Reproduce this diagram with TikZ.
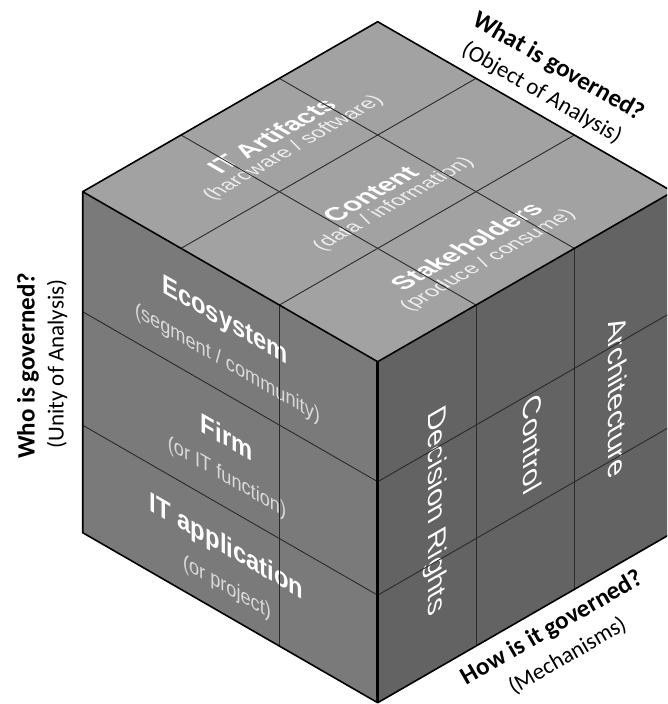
\documentclass[tikz,border=0pt]{standalone}
\usepackage{fontspec}
\usetikzlibrary{calc}
\newfontfamily\arialf{Liberation Sans}
\newfontfamily\calf{Carlito}
\definecolor{topc}{HTML}{A2A2A2}
\definecolor{leftc}{HTML}{7A7A7A}
\definecolor{rightc}{HTML}{636363}
\definecolor{gridc}{HTML}{2A2A2A}
\definecolor{tsubc}{HTML}{EEEEEE}
\definecolor{lsubc}{HTML}{DADADA}
\tikzset{
  edgeline/.style={line width=1.6pt, black, line join=round},
  frontedge/.style={line width=2.6pt, black},
  gridline/.style={line width=0.9pt, gridc},
  topT/.style={cm={0.866,0.5,-0.866,0.5,(0,0)}, inner sep=0pt},
  leftT/.style={cm={0.866,-0.5,0,1,(0,0)}, inner sep=0pt},
  rightT/.style={cm={0,-1,0.866,0.5,(0,0)}, inner sep=0pt},
  ttitle/.style={text=white, font={\arialf\bfseries\fontsize{26}{28}\selectfont}},
  tsub/.style={text=tsubc, font={\arialf\fontsize{21}{23}\selectfont}},
  ltitle/.style={text=white, font={\arialf\bfseries\fontsize{27.5}{29}\selectfont}},
  lsub/.style={text=lsubc, font={\arialf\fontsize{21}{23}\selectfont}},
  rtitle/.style={text=white, font={\arialf\fontsize{29.5}{31}\selectfont}},
  qbold/.style={text=black, inner sep=0pt, font={\calf\bfseries\fontsize{25}{27}\selectfont}},
  qsub/.style={text=black, inner sep=0pt, font={\calf\fontsize{23}{25}\selectfont}},
}
\begin{document}
\begin{tikzpicture}[x=1pt,y=-1pt]
\useasboundingbox (0,0) rectangle (667,704);
\clip (0,0) rectangle (667,704);
% cube vertices
\coordinate (T) at (377.7,21.7);
\coordinate (L) at (82.7,191.7);
\coordinate (F) at (377.7,361.7);
\coordinate (R) at (672.7,191.7);
\coordinate (LB) at (82.7,532.7);
\coordinate (FB) at (377.7,702.7);
\coordinate (RB) at (672.7,532.7);
% horizontal division points on vertical edges
\coordinate (L1) at (82.7,311.7);
\coordinate (L2) at (82.7,425.2);
\coordinate (F1) at (377.7,481.7);
\coordinate (F2) at (377.7,595.2);
\coordinate (R1) at (672.7,311.7);
\coordinate (R2) at (672.7,425.2);
% faces
\fill[topc] (T) -- (R) -- (F) -- (L) -- cycle;
\fill[leftc] (L) -- (F) -- (FB) -- (LB) -- cycle;
\fill[rightc] (F) -- (R) -- (RB) -- (FB) -- cycle;
% top face texts
\node[topT, ttitle] (itart) at (271.5,135.6) {IT Artifacts};
\node[topT, tsub] (itartsub) at (293.6,148.3) {(hardware / software)};
\node[topT, ttitle] (content) at (370.3,194.2) {Content};
\node[topT, tsub] (contentsub) at (393.9,204.5) {(data / information)};
\node[topT, ttitle] (stake) at (466.2,246.1) {Stakeholders};
\node[topT, tsub] (stakesub) at (488.3,260.5) {(produce / consume)};
% left face texts
\node[leftT, ltitle] (eco) at (225,321.7) {Ecosystem};
\node[leftT, lsub] (ecosub) at (227.5,364) {(segment / community)};
\node[leftT, ltitle] (firm) at (226.7,436.7) {Firm};
\node[leftT, lsub] (firmsub) at (227,478) {(or IT function)};
\node[leftT, ltitle] (itapp) at (226.7,548) {IT application};
\node[leftT, lsub] (itappsub) at (227,588) {(or project)};
% right face texts
\node[rightT, rtitle] (decr) at (435,511.7) {Decision Rights};
\node[rightT, rtitle] (ctrl) at (533,444) {Control};
\node[rightT, rtitle] (arch) at (617.5,396.7) {Architecture};
% grid lines
\draw[gridline] ($(T)!1/3!(L)$) -- ($(R)!1/3!(F)$);
\draw[gridline] ($(T)!2/3!(L)$) -- ($(R)!2/3!(F)$);
\draw[gridline] ($(T)!1/3!(R)$) -- ($(L)!1/3!(F)$);
\draw[gridline] ($(T)!2/3!(R)$) -- ($(L)!2/3!(F)$);
\draw[gridline] ($(L)!2/3!(F)$) -- ($(LB)!2/3!(FB)$);
\draw[gridline] ($(F)!1/3!(R)$) -- ($(FB)!1/3!(RB)$);
\draw[gridline] ($(F)!2/3!(R)$) -- ($(FB)!2/3!(RB)$);
\draw[gridline] (L1) -- (F1) -- (R1);
\draw[gridline] (L2) -- (F2) -- (R2);
% outer edges
\draw[edgeline] (L) -- (T) -- (R) -- (F) -- cycle;
\draw[edgeline] (L) -- (LB) -- (FB) -- (RB) -- (R);
\draw[frontedge] (F) -- (FB);
% axis labels
\node[qbold, rotate=-30] (whatq) at (558.3,67.3) {What is governed?};
\node[qsub, rotate=-30] (whats) at (541.7,93.3) {(Object of Analysis)};
\node[qbold, rotate=90] (whoq) at (28,366) {Who is governed?};
\node[qsub, rotate=90] (whos) at (57,364) {(Unity of Analysis)};
\node[qbold, rotate=30] (howq) at (552.3,628.3) {How is it governed?};
\node[qsub, rotate=30] (hows) at (567.5,655.7) {(Mechanisms)};
\end{tikzpicture}
\end{document}
